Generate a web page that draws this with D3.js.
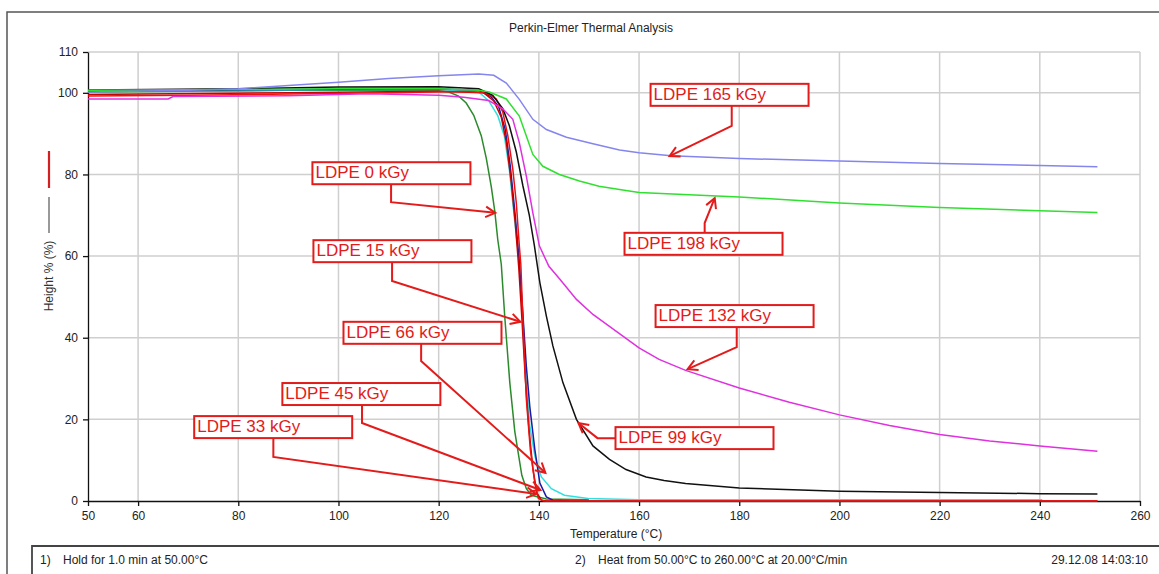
<!DOCTYPE html>
<html>
<head>
<meta charset="utf-8">
<script src="https://cdn.jsdelivr.net/npm/d3@7"></script>
<style>
  body { margin: 0; background: #fff; }
  svg { display: block; font-family: "Liberation Sans", Arial, sans-serif; }
  .axis text { font-size: 12px; fill: #222; }
  .axis path, .axis line { stroke: #111; stroke-width: 1.3; }
</style>
</head>
<body>
<div id="chart"></div>
<script>
// curves: [temperature °C, height %]
const ldpe0 = [[50,100.2],[70,100.4],[90,100.6],[110,100.6],[120,100.5],[122,100.2],[124,99.2],[125.5,97.5],[127,94.5],[128.5,89.5],[129.5,84],[130.5,77],[131.2,71],[131.8,64],[132.5,58],[133.2,45],[134.2,29],[135.2,17],[136.6,6.3],[137.5,3],[138.5,1.4],[141.5,0.5],[150,0.3]];
const ldpe15 = [[50,99.2],[70,99.4],[90,99.7],[110,100],[125,100.3],[129.5,100],[131.5,98.5],[132.8,95.3],[133.8,89.5],[134.8,81.3],[135.5,73],[136.1,62.5],[136.4,58],[136.8,45],[137.5,25],[138.3,12.6],[139.2,4.4],[139.9,0.6],[141,0],[251.5,0]];
const ldpe33 = [[50,99.6],[90,100],[120,100.4],[129,100],[131,98],[132.5,94],[133.5,88],[134.5,78],[135.3,68],[136,57],[136.6,45],[137.3,30],[138,18],[138.8,8],[139.6,2],[140.5,0.2],[141.5,0],[251.5,0]];
const ldpe45 = [[50,100.4],[90,100.8],[120,101],[128,100.6],[130.5,99],[132,96.5],[133.3,91],[134.3,82],[135.2,71],[136,60],[136.8,46],[137.5,33],[138.2,23],[139.2,12.6],[140.2,4.4],[141.5,1],[142.8,0.2],[146,0]];
const ldpe66 = [[50,100.3],[70,100.5],[100,100.8],[120,100.8],[128,100.2],[130,98],[131.8,94.4],[133.1,89.5],[134.1,81.3],[134.8,73],[135.5,65],[136.1,59],[136.8,45.3],[137.5,29],[138.2,18.4],[139.2,11],[140.5,5.9],[142.5,3],[145.1,1.4],[149.8,0.6],[160,0.3],[200,0.3],[240.5,0.3]];
const ldpe99 = [[50,100.7],[80,101],[100,101.4],[120,101.5],[128,101],[130.8,99.4],[132.8,96.1],[134.1,92],[135.5,85.5],[136.8,77.3],[138.1,70],[139.1,62.6],[140.2,53.5],[141.5,45.3],[142.8,38],[144.8,29],[147.5,20],[150.8,13.5],[154.1,10.2],[157.4,7.7],[161.4,5.9],[165,5],[169.3,4.3],[180,3.2],[200,2.4],[220,2.1],[240,1.8],[251.5,1.7]];
const ldpe132 = [[50,98.5],[66,98.5],[67,99.1],[90,99.3],[106,99.8],[120,99.4],[125,98.9],[130,98.1],[132.8,96.1],[134.8,93.5],[136.1,87.8],[137.5,79.6],[138.8,70.6],[140.1,62.5],[142,57.5],[144.2,54.3],[147.5,49.4],[150.8,45.7],[155.4,41.6],[160,37.5],[164,34.7],[169.3,32],[180,27.7],[190,24.2],[200,21.1],[210,18.5],[220,16.3],[230,14.7],[240,13.5],[251.5,12.2]];
const ldpe165 = [[50,100.2],[70,100.6],[80,101],[90,101.8],[100,102.6],[110,103.5],[120,104.2],[128,104.6],[131,104.3],[133.5,102.4],[136.1,98.4],[138.8,93.5],[141.5,91],[145.5,89.1],[150.8,87.5],[156.1,86],[160,85.3],[166.4,84.6],[180,83.9],[200,83.3],[220,82.7],[240,82.2],[251.5,81.9]];
const ldpe198 = [[50,100.6],[80,100.8],[100,101],[120,101],[128,100.6],[130.1,100.2],[133.5,98.5],[136.1,94.3],[137.5,89.4],[138.8,84.9],[140.8,82],[144.1,80],[148.1,78.4],[152,77.1],[156.1,76.3],[160,75.6],[170,75],[180,74.5],[200,73],[220,71.9],[240,71.1],[251.5,70.7]];

const xTicks = [50,60,80,100,120,140,160,180,200,220,240,260];
const yTicks = [0,20,40,60,80,100,110];

// label boxes: top-left corner, elbow and arrow tip, all in data units
const notes = [
  {text: "LDPE 0 kGy",   box: [94.8,83.0],  from: "bottom", elbow: [110.5,73.2], tip: [131.3,70.6]},
  {text: "LDPE 15 kGy",  box: [95.0,63.9],  from: "bottom", elbow: [110.7,53.9], tip: [136.3,43.9]},
  {text: "LDPE 66 kGy",  box: [101.0,43.9], from: "bottom", elbow: [116.5,34.3], tip: [141.3,6.9]},
  {text: "LDPE 45 kGy",  box: [88.8,28.9],  from: "bottom", elbow: [104.7,19.1], tip: [140.3,2.7]},
  {text: "LDPE 33 kGy",  box: [71.2,20.8],  from: "bottom", elbow: [87.0,10.8],  tip: [139.5,1.7]},
  {text: "LDPE 165 kGy", box: [162.3,102.2],from: "bottom", elbow: [178.5,91.9], tip: [166.1,84.5]},
  {text: "LDPE 198 kGy", box: [157.1,65.7], from: "top",    elbow: [173.1,68.1], tip: [175.1,74.2]},
  {text: "LDPE 132 kGy", box: [163.3,48.0], from: "bottom", elbow: [179.5,37.7], tip: [169.7,32.3]},
  {text: "LDPE 99 kGy",  box: [155.3,18.1], from: "left",   elbow: [151.7,15.4], tip: [147.9,19.1]}
];

const series = [
  {data: ldpe0,   color: "#2b8a2b"},
  {data: ldpe66,  color: "#30e0e0"},
  {data: ldpe45,  color: "#1a1aa8"},
  {data: ldpe33,  color: "#c80000"},
  {data: ldpe15,  color: "#ee1111"},
  {data: ldpe99,  color: "#111111"},
  {data: ldpe132, color: "#e030e0"},
  {data: ldpe198, color: "#30e030"},
  {data: ldpe165, color: "#8585ee"}
];

const width = 1159, height = 574;
const boxW = 158, boxH = 22;
const red = "#e31b1b";

const svg = d3.select("#chart").append("svg")
  .attr("width", width)
  .attr("height", height);

const x = d3.scaleLinear().domain([50, 260]).range([88, 1140]);
const y = d3.scaleLinear().domain([0, 110]).range([501, 52]);

// frame and footer box
svg.append("path").attr("d", "M7,574 V12 H1159").attr("fill", "none").attr("stroke", "#555").attr("stroke-width", 1.5);
svg.append("path").attr("d", "M32,574 V546 H1159").attr("fill", "none").attr("stroke", "#444").attr("stroke-width", 1.8);

svg.append("text").attr("x", 591).attr("y", 32).attr("text-anchor", "middle")
  .style("font-size", "12px").attr("fill", "#222").text("Perkin-Elmer Thermal Analysis");

// grid
svg.append("g").selectAll("line").data(xTicks.slice(1)).join("line")
  .attr("x1", d => x(d)).attr("x2", d => x(d)).attr("y1", y(110)).attr("y2", y(0))
  .attr("stroke", "#cfcfcf").attr("stroke-width", 1.5);
svg.append("g").selectAll("line").data(yTicks.slice(1)).join("line")
  .attr("x1", x(50)).attr("x2", x(260)).attr("y1", d => y(d)).attr("y2", d => y(d))
  .attr("stroke", "#cfcfcf").attr("stroke-width", 1.5);

// axes
const xAxis = svg.append("g").attr("class", "axis")
  .attr("transform", `translate(0,${y(0)})`)
  .call(d3.axisBottom(x).tickValues(xTicks).tickSize(5).tickSizeOuter(0).tickPadding(5));
const yAxis = svg.append("g").attr("class", "axis")
  .attr("transform", `translate(${x(50)},0)`)
  .call(d3.axisLeft(y).tickValues(yTicks).tickSize(5).tickSizeOuter(0).tickPadding(5));

svg.append("text").attr("x", 570).attr("y", 538)
  .style("font-size", "12px").attr("fill", "#222").text("Temperature (°C)");

// y title with the two line markers
svg.append("text").attr("transform", "translate(53,276) rotate(-90)").attr("text-anchor", "middle")
  .style("font-size", "12px").attr("fill", "#333").text("Height % (%)");
svg.append("line").attr("x1", 49).attr("x2", 49).attr("y1", 197).attr("y2", 233).attr("stroke", "#555").attr("stroke-width", 1.2);
svg.append("line").attr("x1", 49).attr("x2", 49).attr("y1", 151).attr("y2", 188).attr("stroke", "#d42020").attr("stroke-width", 2.2);

// curves
const line = d3.line().x(d => x(d[0])).y(d => y(d[1]));
svg.append("g").selectAll("path").data(series).join("path")
  .attr("d", d => line(d.data))
  .attr("fill", "none")
  .attr("stroke", d => d.color)
  .attr("stroke-width", 1.5);

// annotations
const notesG = svg.append("g");
notes.forEach(n => {
  const bx = x(n.box[0]), by = y(n.box[1]);
  const ex = x(n.elbow[0]), ey = y(n.elbow[1]);
  const tx = x(n.tip[0]), ty = y(n.tip[1]);
  let sx = ex, sy = by + boxH;
  if (n.from === "top") sy = by;
  if (n.from === "left") { sx = bx; sy = ey; }
  notesG.append("polyline")
    .attr("points", `${sx},${sy} ${ex},${ey} ${tx},${ty}`)
    .attr("fill", "none").attr("stroke", red).attr("stroke-width", 2);
  // open arrow head
  const a = Math.atan2(ty - ey, tx - ex), L = 11, s = 0.5;
  const p1 = [tx - L * Math.cos(a - s), ty - L * Math.sin(a - s)];
  const p2 = [tx - L * Math.cos(a + s), ty - L * Math.sin(a + s)];
  notesG.append("polyline")
    .attr("points", `${p1} ${tx},${ty} ${p2}`)
    .attr("fill", "none").attr("stroke", red).attr("stroke-width", 2);
  notesG.append("rect")
    .attr("x", bx).attr("y", by).attr("width", boxW).attr("height", boxH)
    .attr("fill", "#fff").attr("stroke", red).attr("stroke-width", 2);
  notesG.append("text")
    .attr("x", bx + 3).attr("y", by + 16)
    .style("font-size", "17px").attr("fill", red).text(n.text);
});

// footer
const foot = svg.append("g").style("font-size", "12px").attr("fill", "#222");
foot.append("text").attr("x", 40).attr("y", 564).text("1)");
foot.append("text").attr("x", 63).attr("y", 564).text("Hold for 1.0 min at 50.00°C");
foot.append("text").attr("x", 575).attr("y", 564).text("2)");
foot.append("text").attr("x", 598).attr("y", 564).text("Heat from 50.00°C to 260.00°C at 20.00°C/min");
foot.append("text").attr("x", 1148).attr("y", 564).attr("text-anchor", "end").text("29.12.08 14:03:10");
</script>
</body>
</html>
